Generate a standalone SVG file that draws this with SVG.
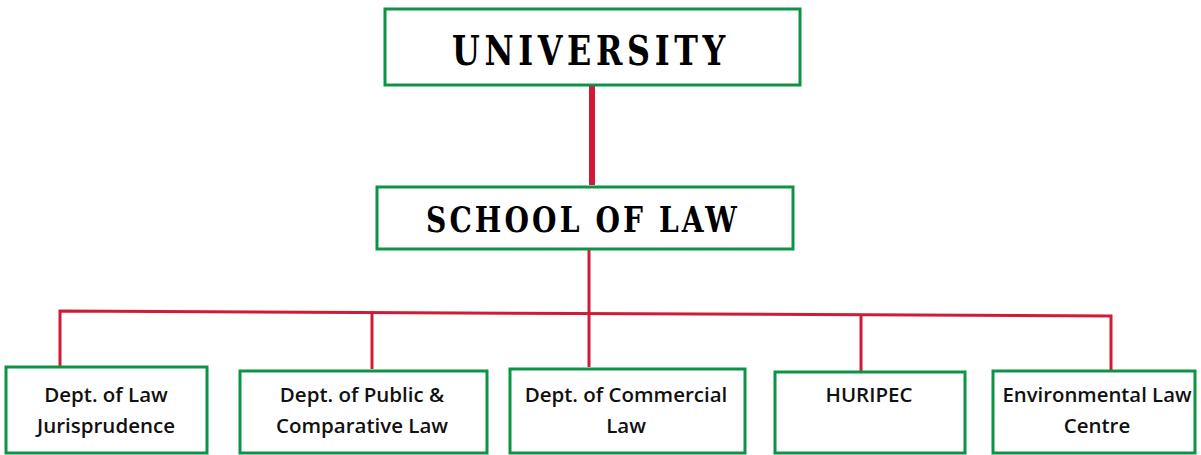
<svg xmlns="http://www.w3.org/2000/svg" width="1201" height="455" viewBox="0 0 1201 455">
<style>
.box{fill:#fff;stroke:#0b9444;stroke-width:3}
.ttl{font-family:"DejaVu Serif",serif;font-weight:bold;fill:#000;text-anchor:middle}
.lbl{font-family:"Open Sans","Liberation Sans",sans-serif;font-weight:600;font-size:20.5px;fill:#111;text-anchor:middle}
.con{stroke:#d11a36;fill:none;stroke-width:3}
</style>
<rect width="1201" height="455" fill="#fff"/>
<g id="connectors">
<line class="con" x1="592" y1="85" x2="592" y2="185" style="stroke-width:6"/>
<line class="con" x1="589" y1="249" x2="589" y2="367"/>
<polyline class="con" points="60,367 60,311 1111,316 1111,370"/>
<line class="con" x1="372" y1="312.5" x2="372" y2="369"/>
<line class="con" x1="861" y1="315" x2="861" y2="372"/>
</g>
<g id="university">
<rect class="box" x="385" y="9" width="415" height="76"/>
<text class="ttl" x="591" y="65" font-size="41" letter-spacing="6" textLength="278" lengthAdjust="spacingAndGlyphs">UNIVERSITY</text>
</g>
<g id="school">
<rect class="box" x="377" y="187" width="416" height="62"/>
<text class="ttl" x="583" y="232" font-size="36" letter-spacing="4" textLength="314" lengthAdjust="spacingAndGlyphs">SCHOOL OF LAW</text>
</g>
<g id="dept-law">
<rect class="box" x="6" y="367" width="201" height="86"/>
<text class="lbl" x="106" y="402">Dept. of Law</text>
<text class="lbl" x="106" y="433">Jurisprudence</text>
</g>
<g id="dept-public">
<rect class="box" x="240" y="371" width="247" height="82"/>
<text class="lbl" x="362" y="402">Dept. of Public &amp;</text>
<text class="lbl" x="362" y="433">Comparative Law</text>
</g>
<g id="dept-commercial">
<rect class="box" x="510" y="369" width="235" height="84"/>
<text class="lbl" x="626" y="402">Dept. of Commercial</text>
<text class="lbl" x="626" y="433">Law</text>
</g>
<g id="huripec">
<rect class="box" x="775" y="372" width="190" height="81"/>
<text class="lbl" x="869" y="402">HURIPEC</text>
</g>
<g id="env-law">
<rect class="box" x="993" y="371" width="202" height="82"/>
<text class="lbl" x="1097" y="402" textLength="189" lengthAdjust="spacingAndGlyphs">Environmental Law</text>
<text class="lbl" x="1097" y="433">Centre</text>
</g>
</svg>
